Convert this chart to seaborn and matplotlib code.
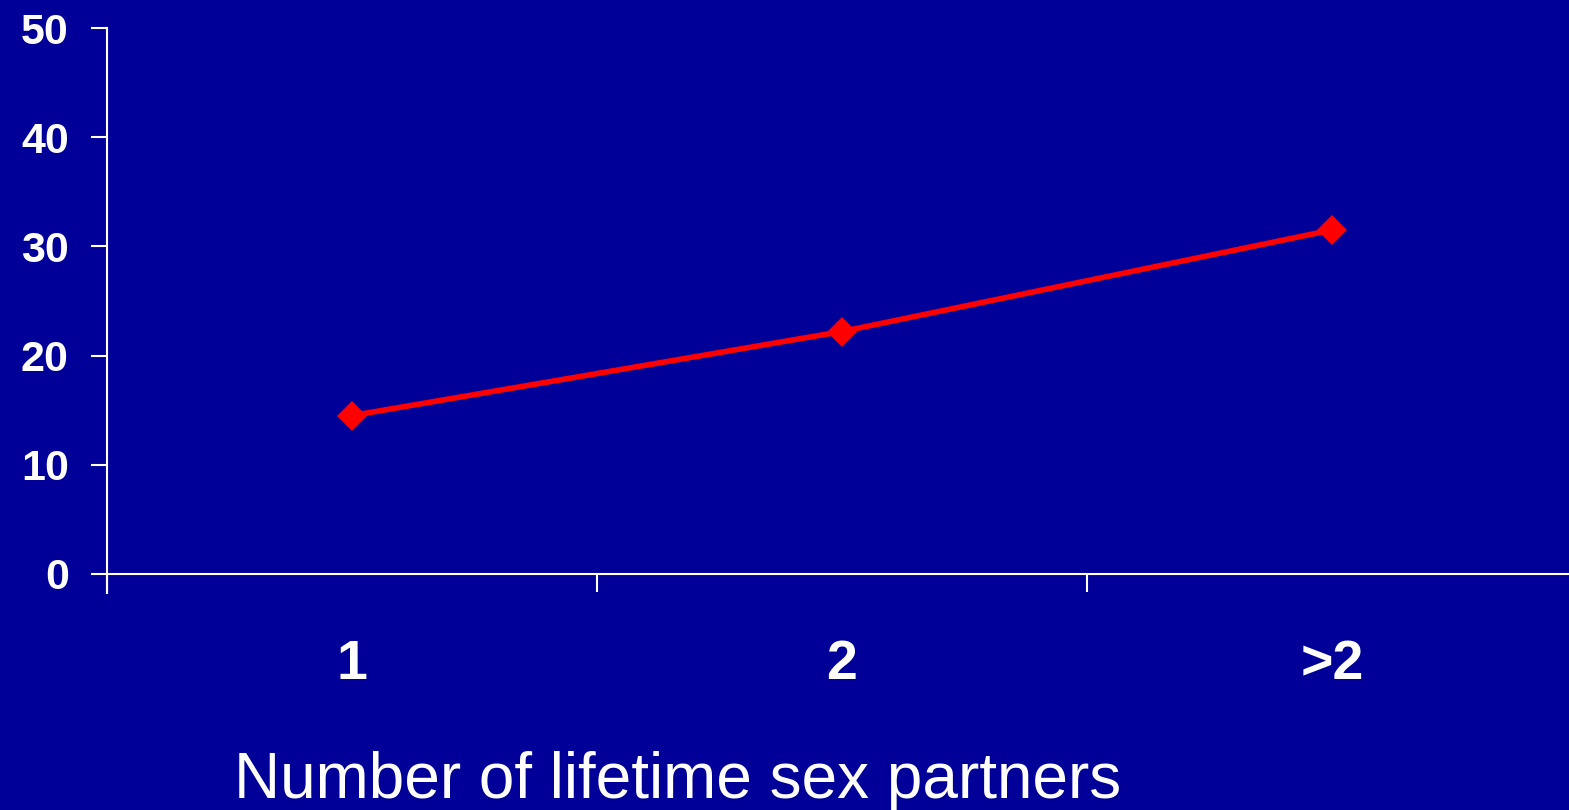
import matplotlib
matplotlib.use("Agg")
import matplotlib.pyplot as plt
import seaborn as sns

# Lifetime sex partners vs. rate (%)
categories = ["1", "2", ">2"]
values = [14.5, 22.2, 31.5]
y_ticks = [0, 10, 20, 30, 40, 50]
x_label = "Number of lifetime sex partners"

BG = "#000099"
sns.set_style("white")
plt.rcParams["font.family"] = ["Liberation Sans", "DejaVu Sans"]

fig = plt.figure(figsize=(15.69, 8.10), dpi=100, facecolor=BG)
ax = fig.add_axes([107 / 1569, 217 / 810, 1470 / 1569, 565 / 810])
ax.set_facecolor(BG)

sns.pointplot(x=categories, y=values, color="red", marker="D", markersize=12.5,
              linewidth=4.0, errorbar=None, ax=ax)

ax.set_xlim(-0.5, 2.5)
ax.set_ylim(-1.75, 50)

for side in ("top", "right"):
    ax.spines[side].set_visible(False)
for side in ("left", "bottom"):
    ax.spines[side].set_color("white")
    ax.spines[side].set_linewidth(1.5)
ax.spines["bottom"].set_position(("data", 0))

ax.set_yticks(y_ticks)
ax.set_yticklabels([str(t) for t in y_ticks], fontsize=31, fontweight="bold", color="white")
ax.tick_params(axis="y", left=True, direction="out", length=11.5, width=1.5,
               color="white", pad=16)

ax.set_xticks(range(len(categories)))
ax.set_xticklabels(categories, fontsize=40, fontweight="bold", color="white")
ax.tick_params(axis="x", which="major", bottom=True, length=0, pad=47)
ax.set_xticks([-0.5, 0.5, 1.5], minor=True)
ax.tick_params(axis="x", which="minor", bottom=True, direction="out", length=13,
               width=1.5, color="white")
ax.set_xlabel("")
ax.set_ylabel("")

fig.text(678 / 1569, 12 / 810, x_label, ha="center", va="baseline",
         fontsize=46, color="white")

fig.savefig("out.png", dpi=100, facecolor=BG)
